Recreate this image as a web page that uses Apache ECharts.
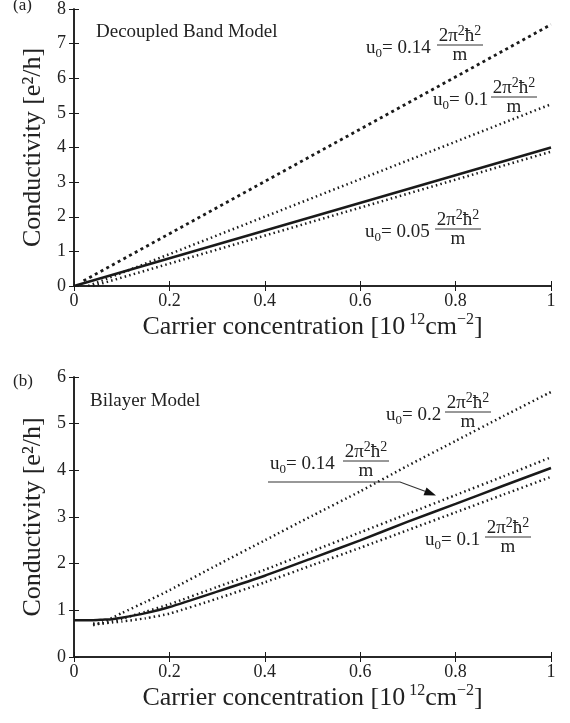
<!DOCTYPE html>
<html>
<head>
<meta charset="utf-8">
<title>Conductivity vs carrier concentration</title>
<script src="https://cdn.jsdelivr.net/npm/echarts@6/dist/echarts.min.js"></script>
<style>
  html, body { margin: 0; padding: 0; background: #fff; }
  #main { width: 570px; height: 723px; }
</style>
</head>
<body>
<div id="main"></div>
<script>
// (a) decoupled band model - straight lines
var aSolidX = [0, 1];
var aSolidY = [0, 4.0];
var a014X = [0.02, 1];
var a014Y = [0.15, 7.55];
var a010X = [0.03, 1];
var a010Y = [0, 5.25];
var a005X = [0.04, 1];
var a005Y = [0, 3.88];

// (b) bilayer model
var bX      = [0, 0.04, 0.06, 0.08, 0.1, 0.15, 0.2, 0.3, 0.4, 0.5, 0.6, 0.7, 0.8, 0.9, 1.0];
var bSolidY = [0.79, 0.79, 0.8, 0.81, 0.84, 0.94, 1.07, 1.4, 1.74, 2.12, 2.5, 2.9, 3.28, 3.67, 4.05];
var bDotX   = [0.04, 0.06, 0.08, 0.1, 0.15, 0.2, 0.3, 0.4, 0.5, 0.6, 0.7, 0.8, 0.9, 1.0];
var b020Y   = [0.68, 0.74, 0.84, 0.94, 1.18, 1.43, 1.97, 2.5, 3.03, 3.55, 4.1, 4.63, 5.16, 5.68];
var b014Y   = [0.7, 0.72, 0.76, 0.82, 0.97, 1.13, 1.5, 1.87, 2.27, 2.67, 3.07, 3.47, 3.87, 4.28];
var b010Y   = [0.72, 0.72, 0.74, 0.76, 0.83, 0.93, 1.25, 1.6, 1.97, 2.34, 2.72, 3.1, 3.48, 3.86];

var xTicks = [0, 0.2, 0.4, 0.6, 0.8, 1];

var INK = '#1a1a1a';
var FONT = 'Liberation Serif';

function pairs(xs, ys) {
    return xs.map(function (x, i) { return [x, ys[i]]; });
}

function xAx(grid, pos) {
    return {
        type: 'value', gridIndex: grid, position: pos,
        min: xTicks[0], max: xTicks[xTicks.length - 1], interval: 0.2,
        axisLine: { lineStyle: { color: INK, width: 1.5 } },
        axisTick: { inside: true, length: 5, lineStyle: { color: INK, width: 1 } },
        axisLabel: { show: pos === 'bottom', margin: 6, color: '#222', fontFamily: FONT, fontSize: 18 },
        splitLine: { show: false },
        name: pos === 'bottom' ? '{a|Carrier concentration [10}{s| 12}{a|cm}{s|−2}{a|]}' : '',
        nameLocation: 'middle', nameGap: 26,
        nameTextStyle: {
            rich: {
                a: { fontFamily: FONT, fontSize: 26, color: '#222', lineHeight: 30 },
                s: { fontFamily: FONT, fontSize: 16, color: '#222', lineHeight: 16, verticalAlign: 'top' }
            }
        }
    };
}

function yAx(grid, pos, max) {
    return {
        type: 'value', gridIndex: grid, position: pos,
        min: 0, max: max, interval: 1,
        axisLine: { lineStyle: { color: INK, width: 1.5 } },
        axisTick: { inside: true, length: 5, lineStyle: { color: INK, width: 1 } },
        axisLabel: { show: pos === 'left', margin: 8, color: '#222', fontFamily: FONT, fontSize: 18 },
        splitLine: { show: false },
        name: pos === 'left' ? 'Conductivity [e²/h]' : '',
        nameLocation: 'middle', nameGap: 28,
        nameTextStyle: { fontFamily: FONT, fontSize: 26, color: '#222' }
    };
}

function line(xi, data, width, dash, smooth) {
    return {
        type: 'line', xAxisIndex: xi, yAxisIndex: xi,
        data: data, symbol: 'none', smooth: smooth || false,
        lineStyle: { color: INK, width: width, type: dash },
        silent: true
    };
}

var DOTS = [1.5, 3.2];      // fine dotted
var BOLDDOTS = [3, 3.5];    // heavy dotted

// label "u0= c 2π²ħ²/m": lx,ly start of label, fx centre of fraction (pixels)
function fracLabel(coef, lx, ly, fx) {
    var base = { fontFamily: FONT, fontSize: 19, fill: '#222' };
    var rich = {
        u: { fontFamily: FONT, fontSize: 19, color: '#222', lineHeight: 24 },
        b: { fontFamily: FONT, fontSize: 13, color: '#222', lineHeight: 13, verticalAlign: 'bottom' },
        p: { fontFamily: FONT, fontSize: 14, color: '#222', lineHeight: 14, verticalAlign: 'top' }
    };
    return [
        { type: 'text', x: lx, y: ly, style: Object.assign({ text: '{u|u}{b|0}{u|= ' + coef + '}', rich: rich, align: 'left', verticalAlign: 'middle' }, base) },
        { type: 'text', x: fx, y: ly - 12, style: Object.assign({ text: '{u|2π}{p|2}{u|ħ}{p|2}', rich: rich, align: 'center', verticalAlign: 'middle' }, base) },
        { type: 'line', shape: { x1: fx - 23, y1: ly - 3, x2: fx + 23, y2: ly - 3 }, style: { stroke: '#333', lineWidth: 1 } },
        { type: 'text', x: fx, y: ly + 7, style: Object.assign({ text: 'm', align: 'center', verticalAlign: 'middle' }, base) }
    ];
}

var graphics = [
    { type: 'text', x: 13, y: 6, style: { text: '(a)', fontFamily: FONT, fontSize: 17, fill: '#222', align: 'left', verticalAlign: 'middle' } },
    { type: 'text', x: 13, y: 382, style: { text: '(b)', fontFamily: FONT, fontSize: 17, fill: '#222', align: 'left', verticalAlign: 'middle' } },
    { type: 'text', x: 96, y: 32, style: { text: 'Decoupled Band Model', fontFamily: FONT, fontSize: 19, fill: '#222', align: 'left', verticalAlign: 'middle' } },
    { type: 'text', x: 90, y: 401, style: { text: 'Bilayer Model', fontFamily: FONT, fontSize: 19, fill: '#222', align: 'left', verticalAlign: 'middle' } },
    // arrow for u0 = 0.14 in panel (b)
    { type: 'polyline', shape: { points: [[268, 482], [400, 482], [425, 491.2]] }, style: { stroke: '#333', lineWidth: 1.2, fill: null } },
    { type: 'polygon', shape: { points: [[436, 495.5], [423.5, 495.3], [426.5, 487.5]] }, style: { fill: '#111' } }
]
.concat(fracLabel('0.14', 366, 48, 460))
.concat(fracLabel('0.1', 433, 100, 514))
.concat(fracLabel('0.05', 365, 232, 458))
.concat(fracLabel('0.2', 386, 415, 468))
.concat(fracLabel('0.14', 270, 464, 366))
.concat(fracLabel('0.1', 425, 540, 508));

var chart = echarts.init(document.getElementById('main'));
chart.setOption({
    animation: false,
    backgroundColor: '#fff',
    grid: [
        { left: 74, top: 6, width: 477, height: 280 },
        { left: 74, top: 377, width: 477, height: 280 }
    ],
    xAxis: [xAx(0, 'bottom'), xAx(0, 'top'), xAx(1, 'bottom'), xAx(1, 'top')],
    yAxis: [yAx(0, 'left', 8), yAx(0, 'right', 8), yAx(1, 'left', 6), yAx(1, 'right', 6)],
    series: [
        line(0, pairs(a014X, a014Y), 2.8, BOLDDOTS),
        line(0, pairs(a010X, a010Y), 2.5, DOTS),
        line(0, pairs(aSolidX, aSolidY), 2.5, 'solid'),
        line(0, pairs(a005X, a005Y), 2.5, DOTS),
        line(2, pairs(bDotX, b020Y), 2.5, DOTS, 0.2),
        line(2, pairs(bDotX, b014Y), 2.5, DOTS, 0.2),
        line(2, pairs(bX, bSolidY), 2.5, 'solid', 0.2),
        line(2, pairs(bDotX, b010Y), 2.5, DOTS, 0.2)
    ],
    graphic: graphics
});
</script>
</body>
</html>
